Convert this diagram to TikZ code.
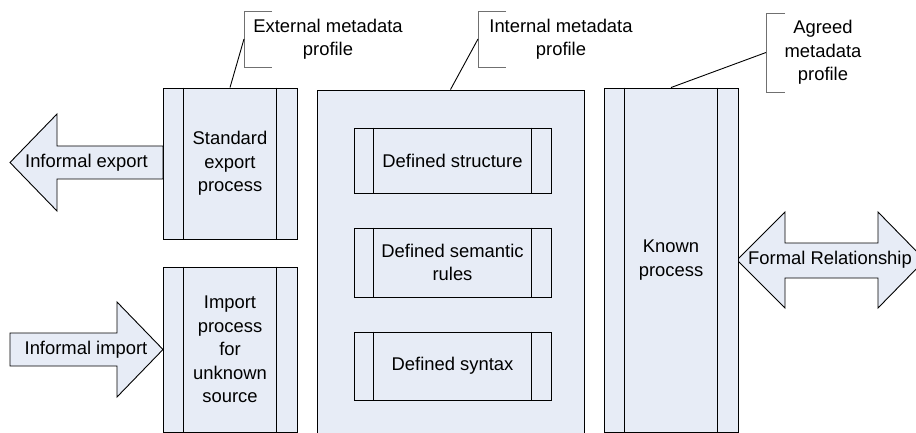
\documentclass[tikz,border=0pt]{standalone}
\usepackage{fontspec}
\setmainfont{Liberation Sans}
\usepackage{tikz}
\usetikzlibrary{calc,positioning}
\definecolor{boxfill}{RGB}{231,236,246}
\definecolor{markgray}{RGB}{112,112,112}
\tikzset{
	procbox/.style={draw,fill=boxfill,inner sep=0pt,align=center},
	bigarrow/.style={draw,fill=boxfill,line join=miter},
	bracketline/.style={draw=markgray},
	calltext/.style={align=center,inner sep=0pt}
}

\begin{document}
\begin{tikzpicture}[x=1pt,y=-1pt,line width=0.9pt,font=\fontsize{18.4pt}{23.5pt}\selectfont]
				\path[use as bounding box,clip] (0,0) rectangle (916,433);
				% block arrows
				\draw[bigarrow] (163,146) -- (57,146) -- (57,114) -- (10,162.5) -- (57,211) -- (57,179) -- (163,179) -- cycle;
				\node (expl) at (86.5,162.5) {Informal export};
				\draw[bigarrow] (10,333) -- (117,333) -- (117,302) -- (163,349.5) -- (117,397) -- (117,366) -- (10,366) -- cycle;
				\node (impl) at (86,349.5) {Informal import};
				\draw[bigarrow] (737,260) -- (785,212) -- (785,243) -- (878,243) -- (878,212) -- (925,260)
					-- (878,308) -- (878,278) -- (785,278) -- (785,308) -- cycle;
				\node (forml) at (830,260) {Formal Relationship};
				% process boxes
				\node[procbox,minimum width=134pt,minimum height=151pt] (exp) at (230,163.5) {Standard\\export\\process};
				\node[procbox,minimum width=134pt,minimum height=165pt] (imp) at (230,349.5) {Import\\process\\for\\unknown\\source};
				\node[procbox,minimum width=267pt,minimum height=346pt] (intl) at (450.5,263) {};
				\node[procbox,minimum width=197pt,minimum height=65pt] (struct) at (452.5,160.5) {Defined structure};
				\node[procbox,minimum width=197pt,minimum height=69pt] (sem) at (452.5,262.5) {Defined semantic\\rules};
				\node[procbox,minimum width=197pt,minimum height=68pt] (syn) at (452.5,366) {Defined syntax};
				\node[procbox,minimum width=134pt,minimum height=344pt] (known) at (671,260) {Known\\process};
				\foreach \n/\d in {exp/21,imp/21,struct/20,sem/20,syn/20,known/21}
				\draw ($(\n.north west)+(\d,0)$) -- ($(\n.south west)+(\d,0)$)
					($(\n.north east)-(\d,0)$) -- ($(\n.south east)-(\d,0)$);
				% callouts
				\coordinate (extmark) at (244,39);
				\coordinate (intmark) at (478,39);
				\coordinate (agrmark) at (766,52.5);
				\draw[bracketline] (272,11) -- (244,11) -- (244,67) -- (272,67);
				\draw[bracketline] (506,11) -- (478,11) -- (478,67) -- (506,67);
				\draw[bracketline] (785,13) -- (766,13) -- (766,92) -- (785,92);
				\draw (extmark) -- (exp.north);
				\draw (intmark) -- (intl.north);
				\draw (agrmark) -- (known.north);
				\node[calltext] (extc) at (328,39) {External metadata\\profile};
				\node[calltext] (intc) at (561,39) {Internal metadata\\profile};
				\node[calltext] (agrc) at (823,52.5) {Agreed\\metadata\\profile};
			\end{tikzpicture}
\end{document}
